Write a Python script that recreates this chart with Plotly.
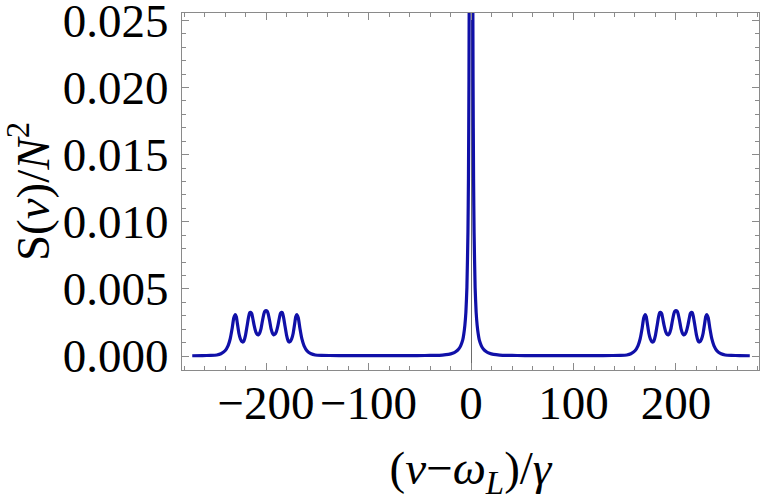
import plotly.graph_objects as go

# spectrum (x in units of gamma, y = S(nu)/N^2)
detuning = [
    -272, -262, -254, -248, -244, -240, -237, -235, -233, -231.5,
    -230, -229, -228, -226.5, -225, -223.5, -222.5, -221.5, -220, -218.5,
    -217, -216, -215, -214, -213, -211.5, -210, -208.5, -207.5, -206.5,
    -205, -203.5, -202, -201, -200, -199, -198, -196.5, -195, -193.5,
    -192.5, -191.5, -190, -188.5, -187, -186, -185, -184, -183, -181.5,
    -180, -178.5, -177.5, -176.5, -175, -173.5, -172, -171, -170, -168.5,
    -167, -165, -163, -160, -156, -152, -146, -138, -120, -90,
    -60, -45, -35, -28, -22, -18, -15, -12, -10, -8,
    -7, -6, -5, -4, -3, -2.5, -2, -1.6, -1.2, -0.8,
    0,
    0.8, 1.2, 1.6, 2, 2.5, 3, 4, 5, 6,
    7, 8, 10, 12, 15, 18, 22, 28, 35, 45,
    60, 90, 120, 138, 146, 152, 156, 160, 163, 165,
    167, 168.5, 170, 171, 172, 173.5, 175, 176.5, 177.5, 178.5,
    180, 181.5, 183, 184, 185, 186, 187, 188.5, 190, 191.5,
    192.5, 193.5, 195, 196.5, 198, 199, 200, 201, 202, 203.5,
    205, 206.5, 207.5, 208.5, 210, 211.5, 213, 214, 215, 216,
    217, 218.5, 220, 221.5, 222.5, 223.5, 225, 226.5, 228, 229,
    230, 231.5, 233, 235, 237, 240, 244, 248, 254, 262,
    272,
]
spectrum = [
    0.00002, 0.00003, 0.00005, 0.00008, 0.00017, 0.00039, 0.00078, 0.00127, 0.00209, 0.00283,
    0.00309, 0.00292, 0.00244, 0.00170, 0.00127, 0.00107, 0.00104, 0.00114, 0.00156, 0.00224,
    0.00292, 0.00322, 0.00326, 0.00317, 0.00283, 0.00224, 0.00180, 0.00161, 0.00158, 0.00166,
    0.00200, 0.00263, 0.00317, 0.00334, 0.00338, 0.00334, 0.00317, 0.00263, 0.00200, 0.00166,
    0.00158, 0.00161, 0.00180, 0.00224, 0.00283, 0.00317, 0.00326, 0.00322, 0.00292, 0.00224,
    0.00156, 0.00114, 0.00104, 0.00107, 0.00127, 0.00170, 0.00244, 0.00292, 0.00309, 0.00283,
    0.00209, 0.00127, 0.00078, 0.00039, 0.00017, 0.00008, 0.00005, 0.00004, 0.00003, 0.00003,
    0.00003, 0.00004, 0.00005, 0.00007, 0.00012, 0.00020, 0.00032, 0.00053, 0.00078, 0.00122,
    0.00166, 0.00229, 0.00326, 0.00512, 0.00921, 0.01321, 0.02062, 0.03200, 0.05740, 0.12660,
    0.40000,
    0.12660, 0.05740, 0.03200, 0.02062, 0.01321, 0.00921, 0.00512, 0.00326, 0.00229,
    0.00166, 0.00122, 0.00078, 0.00053, 0.00032, 0.00020, 0.00012, 0.00007, 0.00005, 0.00004,
    0.00003, 0.00003, 0.00003, 0.00004, 0.00005, 0.00008, 0.00017, 0.00039, 0.00078, 0.00127,
    0.00209, 0.00283, 0.00309, 0.00292, 0.00244, 0.00170, 0.00127, 0.00107, 0.00104, 0.00114,
    0.00156, 0.00224, 0.00292, 0.00322, 0.00326, 0.00317, 0.00283, 0.00224, 0.00180, 0.00161,
    0.00158, 0.00166, 0.00200, 0.00263, 0.00317, 0.00334, 0.00338, 0.00334, 0.00317, 0.00263,
    0.00200, 0.00166, 0.00158, 0.00161, 0.00180, 0.00224, 0.00283, 0.00317, 0.00326, 0.00322,
    0.00292, 0.00224, 0.00156, 0.00114, 0.00104, 0.00107, 0.00127, 0.00170, 0.00244, 0.00292,
    0.00309, 0.00283, 0.00209, 0.00127, 0.00078, 0.00039, 0.00017, 0.00008, 0.00005, 0.00003,
    0.00002,
]

x_range = [-282, 281]
y_range = [-0.00104, 0.02555]

font_name = "Liberation Serif, Times New Roman, serif"
frame_color = "#8a8a8a"

fig = go.Figure()
fig.add_trace(go.Scatter(
    x=detuning, y=spectrum, mode="lines",
    line=dict(color="#1010a8", width=3.2, shape="spline", smoothing=0.5),
    showlegend=False, hoverinfo="skip",
))

axis_style = dict(
    showline=True, linecolor=frame_color, linewidth=1, mirror="ticks",
    ticks="inside", ticklen=7, tickwidth=1, tickcolor=frame_color,
    showgrid=False, automargin=False, ticklabeloverflow="allow",
    tickfont=dict(family=font_name, size=47, color="black"),
)

fig.update_xaxes(
    range=x_range, dtick=100, tick0=0,
    minor=dict(dtick=20, ticklen=4, tickcolor=frame_color, ticks="inside", showgrid=False),
    zeroline=True, zerolinecolor="#6a6a6a", zerolinewidth=1,
    title=dict(text="(<i>ν</i>−<i>ω</i><sub><i>L</i></sub>)/<i>γ</i>",
               font=dict(family=font_name, size=47, color="black"), standoff=22),
    ticklabelstandoff=-8,
    **axis_style,
)
fig.update_yaxes(
    range=y_range, dtick=0.005, tick0=0, tickformat=".3f",
    minor=dict(dtick=0.001, ticklen=4, tickcolor=frame_color, ticks="inside", showgrid=False),
    zeroline=False,
    title=dict(text="S(<i>ν</i>)/<i>N</i><sup>2</sup>",
               font=dict(family=font_name, size=47, color="black"), standoff=16),
    ticklabelstandoff=3,
    **axis_style,
)

fig.update_layout(
    width=763, height=502,
    margin=dict(l=182, r=4, t=13, b=132),
    paper_bgcolor="white", plot_bgcolor="white",
)

# the page body has a default 8px margin; drop it so the figure fills the window
fig.write_html("out.html", config={"displayModeBar": False},
               post_script="document.body.style.margin='0';")
